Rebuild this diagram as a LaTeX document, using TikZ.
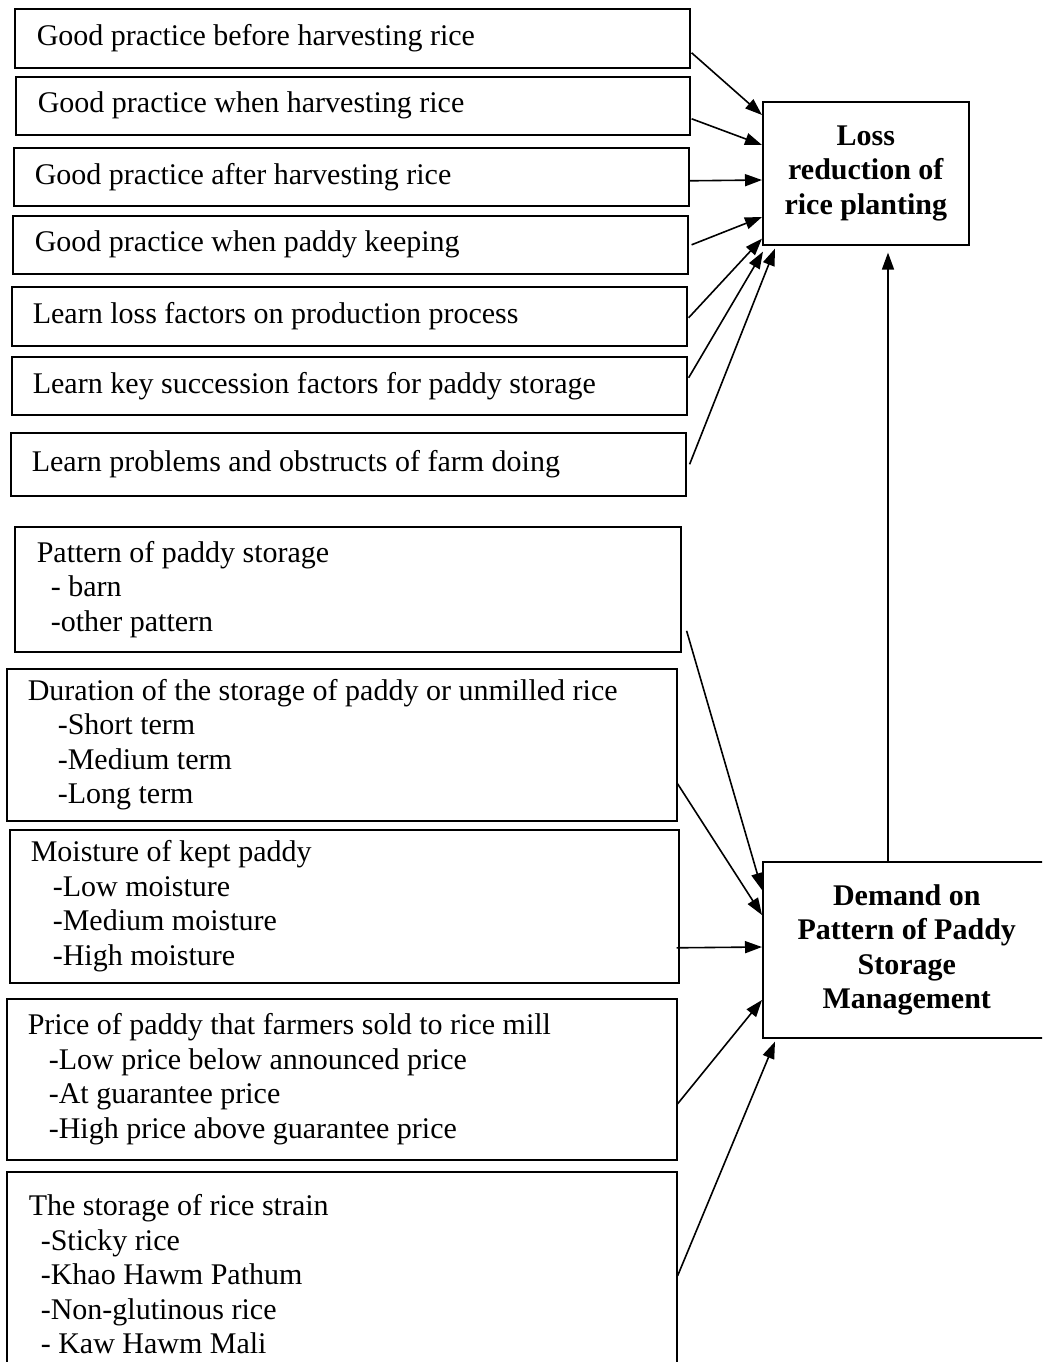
\documentclass[tikz,border=0pt]{standalone}
\usepackage{fontspec}
\setmainfont{Liberation Serif}
\usetikzlibrary{arrows.meta}
\begin{document}
\begin{tikzpicture}[x=1pt,y=-1pt,
  box/.style={draw, line width=1.6pt, anchor=north west, align=flush left, inner ysep=0pt,
    font=\fontsize{30}{34.5}\selectfont},
  goal/.style={draw, line width=1.6pt, anchor=north west, align=flush center, inner sep=0pt,
    font=\fontsize{30}{34.5}\selectfont\bfseries},
  arr/.style={line width=1.6pt, -{Triangle[length=17pt,width=12pt]}}]
\useasboundingbox (0,0) rectangle (1042,1362);
\begin{scope}
\clip (0,0) rectangle (1042,1362);
% top group
\node[box, minimum width=675pt, minimum height=59pt, inner xsep=22pt, text width=631pt] (b1) at (14,8) {Good practice before harvesting rice};
\node[box, minimum width=674pt, minimum height=58pt, inner xsep=22pt, text width=630pt] (b2) at (15,76) {Good practice when harvesting rice};
\node[box, minimum width=675pt, minimum height=58pt, inner xsep=21pt, text width=633pt] (b3) at (13,147) {Good practice after harvesting rice};
\node[box, minimum width=675pt, minimum height=58pt, inner xsep=22pt, text width=631pt] (b4) at (12,215) {Good practice when paddy keeping};
\node[box, minimum width=675pt, minimum height=59pt, inner xsep=21pt, text width=633pt] (b5) at (11,286) {Learn loss factors on production process};
\node[box, minimum width=675pt, minimum height=58pt, inner xsep=21pt, text width=633pt] (b6) at (11,356) {Learn key succession factors for paddy storage};
\node[box, minimum width=675pt, minimum height=63pt, inner xsep=21pt, text width=633pt] (b7) at (10,432) {Learn problems and obstructs of farm doing};
% bottom group
\node[box, minimum width=666pt, minimum height=125pt, inner xsep=22pt, text width=622pt] (b8) at (14,526) {Pattern of paddy storage\\\hspace*{14pt}- barn\\\hspace*{14pt}-other pattern};
\node[box, minimum width=670pt, minimum height=152pt, inner xsep=21pt, text width=628pt] (b9) at (6,668) {Duration of the storage of paddy or unmilled rice\\\hspace*{30pt}-Short term\\\hspace*{30pt}-Medium term\\\hspace*{30pt}-Long term};
\node[box, minimum width=669pt, minimum height=153pt, inner xsep=21pt, text width=627pt] (b10) at (9,829) {Moisture of kept paddy\\\hspace*{22pt}-Low moisture\\\hspace*{22pt}-Medium moisture\\\hspace*{22pt}-High moisture};
\node[box, minimum width=670pt, minimum height=161pt, inner xsep=21pt, text width=628pt] (b11) at (6,998) {Price of paddy that farmers sold to rice mill\\\hspace*{21pt}-Low price below announced price\\\hspace*{21pt}-At guarantee price\\\hspace*{21pt}-High price above guarantee price};
\node[box, minimum width=670pt, minimum height=205pt, inner xsep=22pt, text width=626pt] (b12) at (6,1171) {The storage of rice strain\\\hspace*{12pt}-Sticky rice\\\hspace*{12pt}-Khao Hawm Pathum\\\hspace*{12pt}-Non-glutinous rice\\\hspace*{12pt}- Kaw Hawm Mali};
% targets
\node[goal, minimum width=206pt, minimum height=143pt, text width=200pt] (loss) at (762,101) {Loss\\reduction of\\rice planting};
\node[goal, minimum width=288pt, minimum height=176pt, text width=280pt] (demand) at (762,861) {Demand on\\Pattern of Paddy\\Storage\\Management};
% arrows to loss
\draw[arr] ([xshift=1pt,yshift=-14.5pt]b1.east) -- ([yshift=-14pt]loss.north west);
\draw[arr] ([xshift=1pt,yshift=-13pt]b2.east) -- ([yshift=-44pt]loss.north west);
\draw[arr] ([yshift=-4pt]b3.east) -- ([yshift=-79pt]loss.north west);
\draw[arr] ([xshift=3pt]b4.east) -- ([yshift=-116pt]loss.north west);
\draw[arr] ([xshift=1pt,yshift=-1.5pt]b5.east) -- ([yshift=7pt]loss.south west);
\draw[arr] ([xshift=1pt,yshift=8pt]b6.east) -- ([xshift=1pt,yshift=-6pt]loss.south west);
\draw[arr] ([xshift=3pt]b7.east) -- ([xshift=13pt,yshift=-3pt]loss.south west);
% arrows to demand
\draw[arr] ([xshift=5pt,yshift=-41.5pt]b8.east) -- ([yshift=-29pt]demand.north west);
\draw[arr] ([yshift=-39pt]b9.east) -- ([yshift=-54pt]demand.north west);
\draw[arr] ([xshift=-3pt,yshift=-41.5pt]b10.east) -- ([yshift=-86pt]demand.north west);
\draw[arr] ([yshift=-24.5pt]b11.east) -- ([yshift=-139pt]demand.north west);
\draw[arr] ([yshift=-1.5pt]b12.east) -- ([xshift=13pt,yshift=-3pt]demand.south west);
% demand to loss
\draw[arr] ([xshift=126pt]demand.north west) -- ([xshift=126pt,yshift=-7pt]loss.south west);
\end{scope}
\end{tikzpicture}
\end{document}
